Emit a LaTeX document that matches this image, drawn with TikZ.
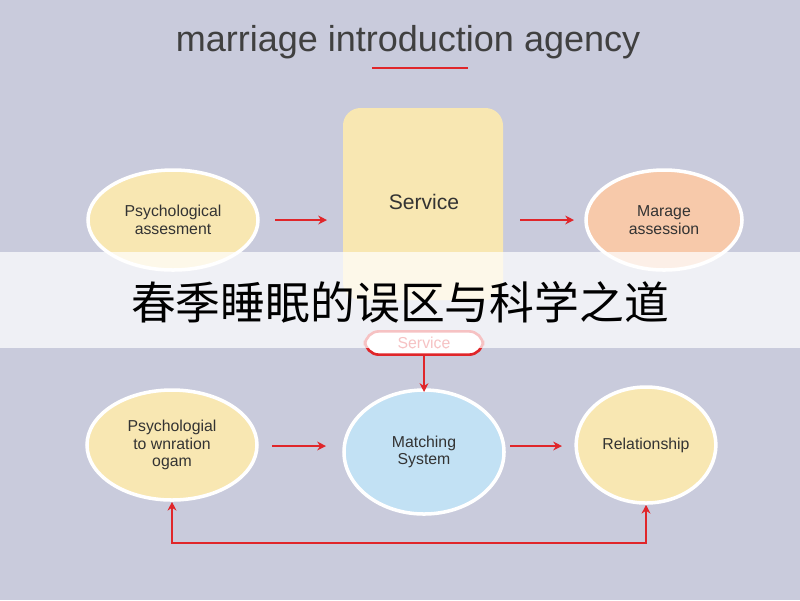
\documentclass[tikz,border=0pt]{standalone}
\usepackage{fontspec}
\setmainfont{Liberation Sans}
\newfontfamily\cjk{Noto Sans CJK SC}
\usetikzlibrary{shapes.geometric,arrows.meta,positioning}
\definecolor{bgc}{HTML}{C9CBDC}
\definecolor{cream}{HTML}{F8E7B2}
\definecolor{peach}{HTML}{F7C9AA}
\definecolor{skyb}{HTML}{C2E1F4}
\definecolor{redc}{HTML}{E0262A}
\tikzset{
  bubble/.style={ellipse, draw=white, line width=2pt, align=center, font=\fontsize{9}{10}\selectfont, text=black!80},
  flow/.style={draw=redc, line width=0.9pt, -{Stealth[length=5pt,width=5pt]}}
}
\begin{document}
\begin{tikzpicture}[x=0.02cm,y=-0.02cm]
   \fill[bgc] (0,0) rectangle (800,600);
   \node[font=\fontsize{20.5}{24}\selectfont, text=black!75] (title) at (408,42) {marriage introduction agency};
   \draw[redc, line width=1pt] (372,68) -- (468,68);

   \fill[cream, rounded corners=10pt] (343,108) rectangle (503,300);
   \node[font=\fontsize{12}{14}\selectfont, text=black!80] (srv) at (424,202) {Service};

   \node[bubble, fill=cream, minimum width=170*0.02cm, minimum height=100*0.02cm] (psy) at (173,220) {Psychological\\assesment};
   \node[bubble, fill=peach, minimum width=156*0.02cm, minimum height=100*0.02cm] (mar) at (664,220) {Marage\\assession};
   \coordinate (s1) at (275,220); \coordinate (e1) at (327,220);
   \coordinate (s2) at (520,220); \coordinate (e2) at (574,220);
   \draw[flow] (s1) -- (e1);
   \draw[flow] (s2) -- (e2);

   \node[draw=redc, line width=1.5pt, fill=white, rounded corners=8pt, minimum width=118*0.02cm, minimum height=22*0.02cm, text=redc, font=\fontsize{9}{10}\selectfont] (pill) at (424,343) {Service};

   \node[bubble, fill=cream, minimum width=170*0.02cm, minimum height=110*0.02cm] (ptw) at (172,445) {Psychologial\\to wnration\\ogam};
   \node[bubble, fill=skyb, minimum width=160*0.02cm, minimum height=124*0.02cm] (mat) at (424,452) {Matching\\System};
   \node[bubble, fill=cream, minimum width=136*0.02cm, minimum height=116*0.02cm] (rel) at (646,445) {Relationship};

   \draw[flow] (pill.south) -- ++(0,36);
   \coordinate (s3) at (272,446); \coordinate (e3) at (326,446);
   \coordinate (s4) at (510,446); \coordinate (e4) at (562,446);
   \draw[flow] (s3) -- (e3);
   \draw[flow] (s4) -- (e4);
   \draw[flow, {Stealth[length=5pt,width=5pt]}-{Stealth[length=5pt,width=5pt]}] (ptw.south) -- (172,543) -- (646,543) -- (rel.south);

   \fill[white, opacity=0.72] (0,252) rectangle (800,348);
   \node[font=\cjk\fontsize{25.5}{30}\selectfont] (band) at (400,302) {春季睡眠的误区与科学之道};
\end{tikzpicture}
\end{document}
